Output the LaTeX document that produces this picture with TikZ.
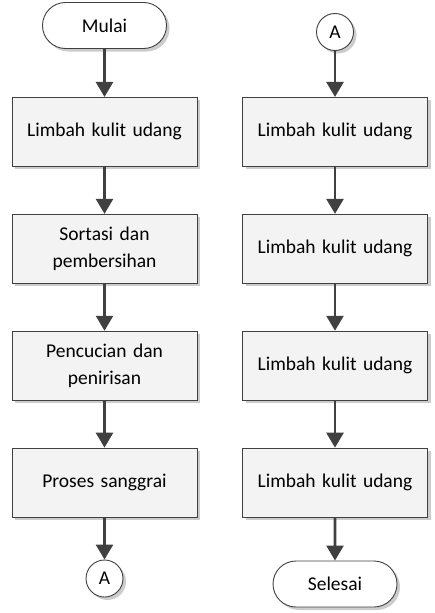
\documentclass[tikz,border=0pt]{standalone}
\usepackage{fontspec}
\setmainfont{Carlito}
\usetikzlibrary{shapes.misc, arrows.meta, positioning, shadows}

\definecolor{linegray}{RGB}{64,64,64}
\definecolor{boxfill}{RGB}{243,243,243}

\begin{document}
\begin{tikzpicture}[
    x=1pt, y=1pt,
    font=\fontsize{19.5}{27}\selectfont,
    node distance=47pt,
    shade/.style={drop shadow={shadow xshift=3pt, shadow yshift=-3pt, fill=gray!40, opacity=1}},
    process/.style={rectangle, draw=linegray, line width=0.9pt, fill=boxfill, shade, minimum width=185pt, minimum height=69pt, text width=170pt, text centered, align=center, inner sep=0pt},
    terminal/.style={rounded rectangle, draw=linegray, line width=0.9pt, fill=white, shade, minimum width=124pt, minimum height=46pt, inner sep=0pt},
    connector/.style={circle, draw=linegray, line width=0.9pt, fill=white, shade, minimum size=37pt, inner sep=0pt},
    arrow/.style={draw=linegray, line width=2.6pt, -{Triangle[width=17pt,length=15pt]}}
]
\useasboundingbox (0,0) rectangle (434,-613);

% Left column
\node[terminal] (mulai) at (104.5,-25.5) {Mulai};
\node[process, below=48pt of mulai] (limbah) {Limbah kulit udang};
\node[process, below=of limbah] (sortasi) {Sortasi dan\\pembersihan};
\node[process, below=of sortasi] (cuci) {Pencucian dan\\penirisan};
\node[process, below=of cuci] (sanggrai) {Proses sanggrai};
\node[connector, below=42pt of sanggrai] (keA) {A};

% Right column
\node[connector] (dariA) at (335,-32) {A};
\node[process, below=46pt of dariA] (limbahb) {Limbah kulit udang};
\node[process, below=of limbahb] (limbahc) {Limbah kulit udang};
\node[process, below=of limbahc] (limbahd) {Limbah kulit udang};
\node[process, below=of limbahd] (limbahe) {Limbah kulit udang};
\node[terminal, below=43pt of limbahe] (selesai) {Selesai};

% Arrows
\draw[arrow] (mulai) -- (limbah);
\draw[arrow] (limbah) -- (sortasi);
\draw[arrow] (sortasi) -- (cuci);
\draw[arrow] (cuci) -- (sanggrai);
\draw[arrow] (sanggrai) -- (keA);
\draw[arrow] (dariA) -- (limbahb);
\draw[arrow] (limbahb) -- (limbahc);
\draw[arrow] (limbahc) -- (limbahd);
\draw[arrow] (limbahd) -- (limbahe);
\draw[arrow] (limbahe) -- (selesai);

\end{tikzpicture}
\end{document}
